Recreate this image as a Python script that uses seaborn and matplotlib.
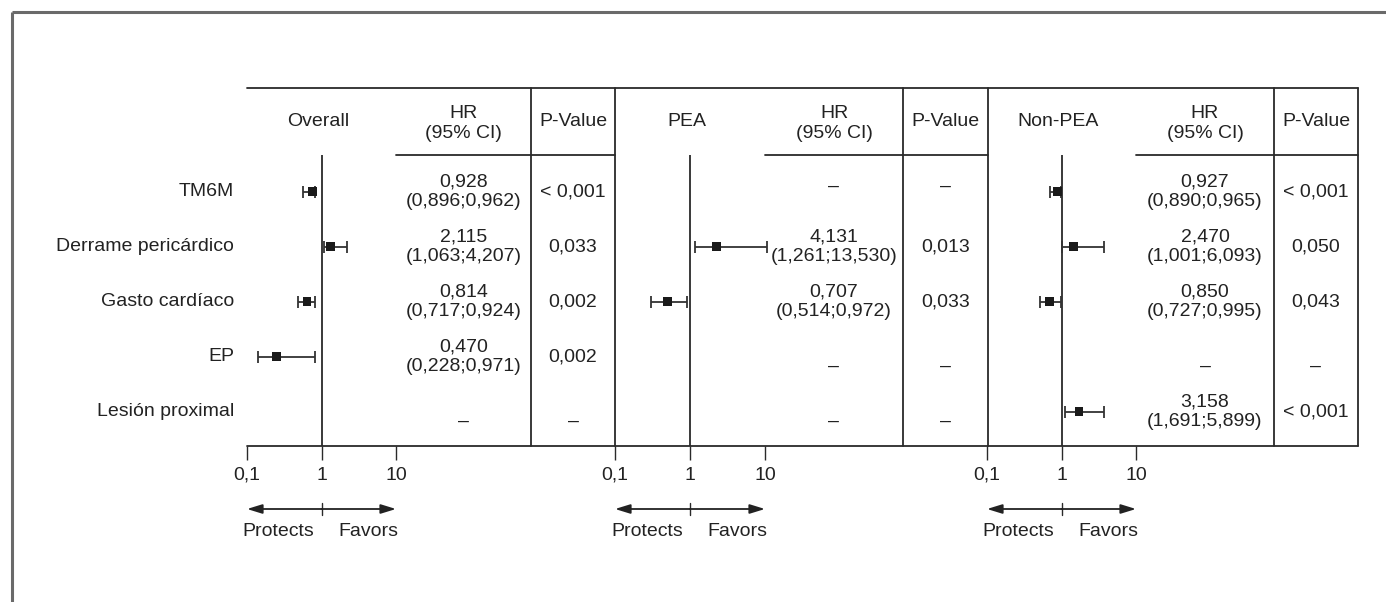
import numpy as np
import pandas as pd
import matplotlib
matplotlib.use("Agg")
import matplotlib.pyplot as plt
from matplotlib.ticker import NullLocator
import seaborn as sns

# ---------------- data ----------------
row_labels = ["TM6M", "Derrame pericárdico", "Gasto cardíaco", "EP", "Lesión proximal"]
groups = ["Overall", "PEA", "Non-PEA"]

# point estimates and whisker ends as drawn in the figure (None = no estimate)
overall_pt = [0.75, 1.32, 0.64, 0.25, None]
overall_lo = [0.57, 1.07, 0.49, 0.14, None]
overall_hi = [0.83, 2.21, 0.81, 0.81, None]
pea_pt = [None, 2.28, 0.50, None, None]
pea_lo = [None, 1.15, 0.30, None, None]
pea_hi = [None, 10.6, 0.90, None, None]
nonpea_pt = [0.88, 1.45, 0.69, None, 1.72]
nonpea_lo = [0.70, 1.02, 0.52, None, 1.10]
nonpea_hi = [0.99, 3.74, 0.99, None, 3.74]

overall_hr = ["0,928\n(0,896;0,962)", "2,115\n(1,063;4,207)", "0,814\n(0,717;0,924)",
              "0,470\n(0,228;0,971)", "–"]
overall_p = ["< 0,001", "0,033", "0,002", "0,002", "–"]
pea_hr = ["–", "4,131\n(1,261;13,530)", "0,707\n(0,514;0,972)", "–", "–"]
pea_p = ["–", "0,013", "0,033", "–", "–"]
nonpea_hr = ["0,927\n(0,890;0,965)", "2,470\n(1,001;6,093)", "0,850\n(0,727;0,995)", "–",
             "3,158\n(1,691;5,899)"]
nonpea_p = ["< 0,001", "0,050", "0,043", "–", "< 0,001"]

tick_values = [0.1, 1, 10]
tick_labels = ["0,1", "1", "10"]
hr_header = "HR\n(95% CI)"
p_header = "P-Value"
left_text, right_text = "Protects", "Favors"

# ---------------- style ----------------
sns.set_theme(style="white")
plt.rcParams["font.family"] = ["Liberation Sans", "DejaVu Sans"]
FS = 14
TXT = "#222222"
LN = "#2a2a2a"

W, H = 1386, 602
fig = plt.figure(figsize=(W / 100, H / 100), dpi=100)

# layout in pixels
forest_x = [(247, 396), (615, 765), (987, 1136)]
pcol_x = [(531, 615), (903, 988), (1274, 1358)]
y_top, y_head, y_axis = 88, 155, 446
row0, drow = 191.7, 55.0
dash_shift = [-5, 0, 0, 10, 10]   # vertical placement of "–" cells per row


def frac(x0, y0, x1, y1):
    return [x0 / W, 1 - y1 / H, (x1 - x0) / W, (y1 - y0) / H]


# overlay axes in pixel coordinates for the table structure
ov = fig.add_axes([0, 0, 1, 1])
ov.set_xlim(0, W)
ov.set_ylim(H, 0)
ov.axis("off")
ov.patch.set_visible(False)

# outer frame (top & left)
ov.plot([12, W], [12, 12], color="#6a6a6a", lw=2.2, solid_capstyle="butt")
ov.plot([12, 12], [12, H], color="#6a6a6a", lw=2.2, solid_capstyle="butt")

# table lines
ov.plot([247, 1358], [y_top, y_top], color=LN, lw=1.3)
ov.plot([247, 1358], [y_axis, y_axis], color=LN, lw=1.3)
for (a, b) in pcol_x:
    ov.plot([a, a], [y_top, y_axis], color=LN, lw=1.3)
    ov.plot([b, b], [y_top, y_axis], color=LN, lw=1.3)

pts = [overall_pt, pea_pt, nonpea_pt]
los = [overall_lo, pea_lo, nonpea_lo]
his = [overall_hi, pea_hi, nonpea_hi]
hrs = [overall_hr, pea_hr, nonpea_hr]
ps = [overall_p, pea_p, nonpea_p]

row_y = [row0 + drow * i for i in range(len(row_labels))]

for lab, yy in zip(row_labels, row_y):
    ov.text(234, yy, lab, ha="right", va="center", fontsize=FS, color=TXT)


def cell(x, yy, s, i):
    if s == "–":
        yy = yy + dash_shift[i]
    ov.text(x, yy, s, ha="center", va="center", fontsize=FS, color=TXT,
            linespacing=1.2)


for g, name in enumerate(groups):
    fx0, fx1 = forest_x[g]
    pa, pb = pcol_x[g]
    xmid = (fx0 + fx1) / 2
    hr_c = (fx1 + pa) / 2
    p_c = (pa + pb) / 2
    # header underline
    ov.plot([fx1, pb], [y_head, y_head], color=LN, lw=1.3)
    ov.text(xmid - 3, 122, name, ha="center", va="center", fontsize=FS, color=TXT)
    ov.text(hr_c, 123.5, hr_header, ha="center", va="center", fontsize=FS,
            color=TXT, linespacing=1.2)
    ov.text(p_c, 122, p_header, ha="center", va="center", fontsize=FS, color=TXT)
    for i, yy in enumerate(row_y):
        cell(hr_c, yy, hrs[g][i], i)
        cell(p_c, yy, ps[g][i], i)
    ov.text(xmid - 7, 532, left_text, ha="right", va="center", fontsize=FS, color=TXT)
    ov.text(xmid + 17, 532, right_text, ha="left", va="center", fontsize=FS, color=TXT)

    # forest axes
    ax = fig.add_axes(frac(fx0, y_head, fx1, y_axis))
    ax.patch.set_visible(False)
    df = pd.DataFrame({"row": list(range(len(row_labels))), "pt": pts[g],
                       "lo": los[g], "hi": his[g]}).dropna()
    ax.set_xscale("log")
    ax.axvline(1, color=LN, lw=1.3, zorder=1)
    ax.errorbar(df["pt"], df["row"],
                xerr=[df["pt"] - df["lo"], df["hi"] - df["pt"]],
                fmt="none", ecolor="#333333", elinewidth=1.3, capsize=4.3,
                capthick=1.3, zorder=2, clip_on=False)
    sns.scatterplot(data=df, x="pt", y="row", marker="s", s=40, color="#1a1a1a",
                    edgecolor="none", linewidth=0, legend=False, ax=ax, zorder=3,
                    clip_on=False)
    ax.set_xlim(0.1, 10)
    ax.set_ylim((y_axis - row0) / drow, (y_head - row0) / drow)
    ax.set_xlabel("")
    ax.set_ylabel("")
    ax.set_yticks([])
    ax.set_xticks(tick_values)
    ax.set_xticklabels(tick_labels)
    ax.xaxis.set_minor_locator(NullLocator())
    ax.tick_params(axis="x", direction="out", length=10, width=1.0, color=LN,
                   pad=5, labelsize=FS, labelcolor=TXT, bottom=True)
    for s in ax.spines.values():
        s.set_visible(False)

    # protects / favors arrows
    ya = (y_axis - 509) / (y_axis - y_head)
    for tgt in (0.1, 10):
        ax.annotate("", xy=(tgt, ya), xytext=(1, ya),
                    xycoords=("data", "axes fraction"),
                    textcoords=("data", "axes fraction"),
                    arrowprops=dict(arrowstyle="-|>,head_length=0.65,head_width=0.2",
                                    color="#222222", lw=1.3, shrinkA=0, shrinkB=0,
                                    mutation_scale=14))
    ax.plot([1, 1], [(y_axis - 503) / (y_axis - y_head), (y_axis - 515) / (y_axis - y_head)],
            transform=ax.get_xaxis_transform(), color=LN, lw=1.0, clip_on=False)

fig.savefig("out.png", dpi=100, facecolor="white")
